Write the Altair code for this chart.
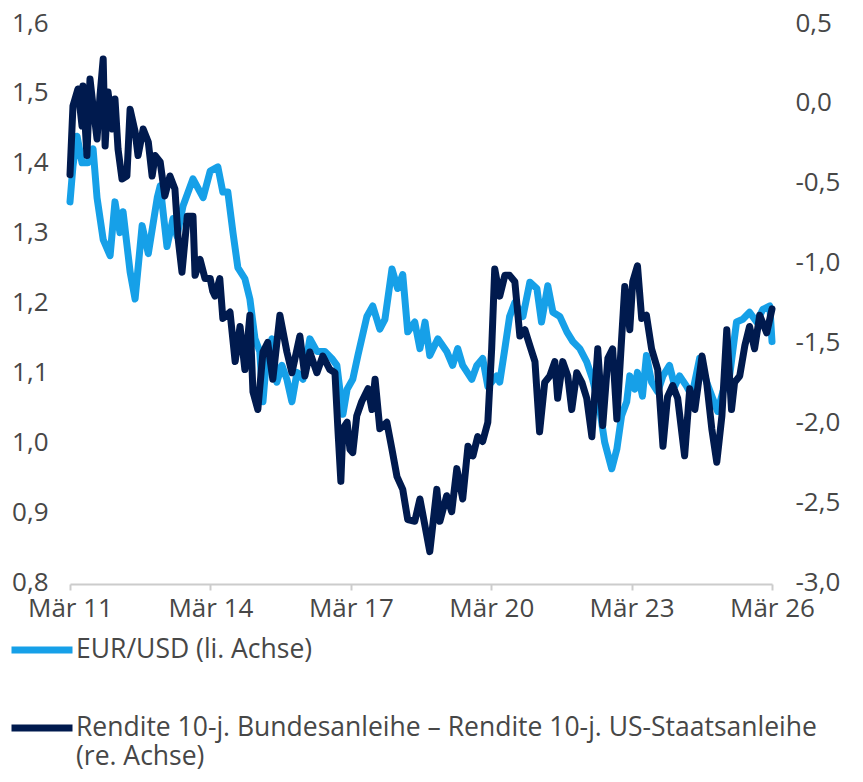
import altair as alt
import pandas as pd

# ---------------- data ----------------
eur_dates = [
    "2011-03-01", "2011-03-24", "2011-04-25", "2011-06-03", "2011-07-19", "2011-08-28",
    "2011-09-28", "2011-11-15", "2012-01-08", "2012-02-15", "2012-03-25", "2012-04-18",
    "2012-06-12", "2012-07-21", "2012-09-14", "2012-11-01", "2013-01-10", "2013-02-02",
    "2013-03-27", "2013-05-13", "2013-06-13", "2013-07-30", "2013-10-16", "2014-01-03",
    "2014-02-27", "2014-04-28", "2014-06-06", "2014-07-15", "2014-08-24", "2014-10-01",
    "2014-11-25", "2015-01-03", "2015-02-12", "2015-03-21", "2015-04-15", "2015-05-15",
    "2015-06-24", "2015-08-01", "2015-09-10", "2015-10-19", "2015-11-27", "2016-01-06",
    "2016-02-21", "2016-04-15", "2016-06-09", "2016-08-10", "2016-10-03", "2016-11-12",
    "2016-12-29", "2017-01-31", "2017-03-16", "2017-04-25", "2017-07-04", "2017-08-19",
    "2017-10-13", "2017-11-22", "2018-01-16", "2018-03-01", "2018-04-10", "2018-05-19",
    "2018-07-13", "2018-08-22", "2018-10-01", "2018-11-07", "2019-01-09", "2019-03-19",
    "2019-05-04", "2019-06-13", "2019-07-22", "2019-10-01", "2019-11-09", "2019-12-25",
    "2020-02-03", "2020-04-13", "2020-05-06", "2020-06-15", "2020-07-22", "2020-09-01",
    "2020-11-03", "2020-12-27", "2021-02-20", "2021-03-28", "2021-05-16", "2021-06-25",
    "2021-08-18", "2021-10-12", "2021-11-28", "2022-01-21", "2022-03-16", "2022-05-01",
    "2022-06-25", "2022-08-03", "2022-09-27", "2022-11-06", "2022-12-13", "2023-01-22",
    "2023-02-15", "2023-03-25", "2023-04-16", "2023-05-25", "2023-06-25", "2023-08-04",
    "2023-09-21", "2023-11-01", "2023-12-22", "2024-02-01", "2024-03-10", "2024-05-04",
    "2024-06-13", "2024-08-13", "2024-10-07", "2024-11-25", "2025-01-01", "2025-02-10",
    "2025-04-04", "2025-05-28", "2025-07-16", "2025-09-07", "2025-11-01", "2025-12-19",
    "2026-02-12", "2026-03-01",
]
eur_values = [
    1.344, 1.395, 1.438, 1.400, 1.400, 1.420,
    1.350, 1.290, 1.267, 1.344, 1.300, 1.330,
    1.244, 1.205, 1.310, 1.270, 1.350, 1.367,
    1.280, 1.320, 1.295, 1.338, 1.377, 1.350,
    1.388, 1.394, 1.358, 1.358, 1.300, 1.250,
    1.234, 1.205, 1.148, 1.130, 1.058, 1.124,
    1.148, 1.086, 1.110, 1.090, 1.058, 1.100,
    1.090, 1.148, 1.130, 1.130, 1.120, 1.110,
    1.040, 1.076, 1.090, 1.124, 1.180, 1.195,
    1.162, 1.176, 1.248, 1.220, 1.240, 1.158,
    1.172, 1.134, 1.172, 1.124, 1.148, 1.130,
    1.110, 1.134, 1.110, 1.090, 1.110, 1.120,
    1.080, 1.095, 1.086, 1.134, 1.180, 1.200,
    1.180, 1.229, 1.220, 1.172, 1.224, 1.186,
    1.180, 1.158, 1.144, 1.134, 1.115, 1.090,
    1.048, 1.000, 0.962, 0.990, 1.038, 1.058,
    1.095, 1.076, 1.100, 1.066, 1.124, 1.086,
    1.072, 1.095, 1.110, 1.080, 1.095, 1.080,
    1.066, 1.120, 1.086, 1.062, 1.044, 1.072,
    1.095, 1.172, 1.176, 1.186, 1.172, 1.190,
    1.195, 1.144,
]

spread_dates = [
    "2011-03-01", "2011-03-24", "2011-05-02", "2011-06-03", "2011-06-10", "2011-07-11",
    "2011-08-04", "2011-08-28", "2011-09-28", "2011-10-21", "2011-11-15", "2011-11-30",
    "2011-12-23", "2012-01-25", "2012-02-15", "2012-03-10", "2012-04-10", "2012-05-18",
    "2012-06-12", "2012-07-21", "2012-08-13", "2012-09-22", "2012-11-01", "2012-12-01",
    "2012-12-25", "2013-02-02", "2013-03-10", "2013-04-19", "2013-05-28", "2013-06-22",
    "2013-07-22", "2013-09-01", "2013-10-16", "2013-11-01", "2013-12-10", "2014-01-18",
    "2014-02-27", "2014-03-19", "2014-04-06", "2014-05-13", "2014-06-06", "2014-08-01",
    "2014-09-10", "2014-10-18", "2014-11-25", "2015-01-03", "2015-01-27", "2015-03-06",
    "2015-04-15", "2015-05-22", "2015-07-01", "2015-08-25", "2015-10-19", "2015-11-27",
    "2016-01-28", "2016-03-07", "2016-04-15", "2016-06-09", "2016-07-25", "2016-09-18",
    "2016-10-28", "2016-11-21", "2016-12-13", "2016-12-29", "2017-01-31", "2017-02-22",
    "2017-03-16", "2017-04-16", "2017-05-25", "2017-07-13", "2017-08-13", "2017-09-06",
    "2017-10-13", "2017-12-07", "2018-01-16", "2018-02-24", "2018-04-10", "2018-05-19",
    "2018-07-13", "2018-08-22", "2018-10-01", "2018-11-07", "2019-01-01", "2019-01-25",
    "2019-03-19", "2019-04-27", "2019-06-06", "2019-07-22", "2019-09-01", "2019-10-10",
    "2019-11-16", "2019-12-25", "2020-02-03", "2020-03-04", "2020-03-28", "2020-05-06",
    "2020-06-15", "2020-07-22", "2020-09-01", "2020-10-10", "2020-11-18", "2020-12-27",
    "2021-02-05", "2021-03-13", "2021-04-22", "2021-06-01", "2021-07-10", "2021-08-01",
    "2021-09-10", "2021-10-19", "2021-11-19", "2021-12-28", "2022-02-06", "2022-03-16",
    "2022-04-25", "2022-06-10", "2022-07-19", "2022-08-28", "2022-10-04", "2022-11-06",
    "2022-12-13", "2023-01-07", "2023-01-22", "2023-02-15", "2023-03-10", "2023-04-16",
    "2023-05-19", "2023-06-25", "2023-08-04", "2023-09-21", "2023-11-01", "2023-12-07",
    "2024-01-16", "2024-02-24", "2024-04-18", "2024-05-28", "2024-07-07", "2024-09-01",
    "2024-10-07", "2024-11-16", "2024-12-25", "2025-02-03", "2025-03-13", "2025-04-19",
    "2025-05-13", "2025-06-22", "2025-08-01", "2025-09-07", "2025-10-16", "2025-11-25",
    "2026-01-19", "2026-03-01",
]
spread_values = [
    -0.45, -0.02, 0.087, -0.145, 0.106, -0.33,
    0.15, -0.02, -0.226, 0.043, 0.275, -0.27,
    0.068, -0.164, 0.024, -0.29, -0.477, -0.458,
    -0.04, -0.18, -0.33, -0.164, -0.245, -0.458,
    -0.33, -0.37, -0.583, -0.458, -0.54, -0.85,
    -1.06, -0.71, -0.71, -1.08, -0.98, -1.10,
    -1.10, -1.18, -1.21, -1.10, -1.35, -1.31,
    -1.62, -1.40, -1.67, -1.33, -1.81, -1.92,
    -1.56, -1.50, -1.73, -1.33, -1.56, -1.69,
    -1.46, -1.71, -1.56, -1.69, -1.585, -1.67,
    -1.69, -2.06, -2.37, -2.04, -2.00, -2.17,
    -2.19, -1.96, -1.87, -1.79, -1.92, -1.73,
    -2.04, -2.00, -2.17, -2.34, -2.42, -2.61,
    -2.62, -2.48, -2.65, -2.81, -2.42, -2.62,
    -2.46, -2.56, -2.29, -2.48, -2.15, -2.21,
    -2.09, -2.12, -2.00, -1.54, -1.04, -1.21,
    -1.08, -1.08, -1.12, -1.46, -1.42, -1.52,
    -1.62, -2.06, -1.75, -1.71, -1.62, -1.85,
    -1.62, -1.71, -1.92, -1.69, -1.75, -1.85,
    -2.09, -1.54, -2.02, -1.60, -1.54, -1.98,
    -1.48, -1.15, -1.23, -1.42, -1.12, -1.02,
    -1.35, -1.33, -1.54, -1.67, -2.15, -1.84,
    -1.77, -1.85, -2.21, -1.79, -1.92, -1.585,
    -1.75, -2.04, -2.25, -1.96, -1.42, -1.92,
    -1.75, -1.71, -1.52, -1.40, -1.54, -1.33,
    -1.44, -1.29,
]

left_ticks = [0.8, 0.9, 1.0, 1.1, 1.2, 1.3, 1.4, 1.5, 1.6]
right_ticks = [-3.0, -2.5, -2.0, -1.5, -1.0, -0.5, 0.0, 0.5]
tick_years = [2011, 2014, 2017, 2020, 2023, 2026]

S1 = "EUR/USD (li. Achse)"
S2 = "Rendite 10-j. Bundesanleihe – Rendite 10-j. US-Staatsanleihe (re. Achse)"
S2_LINE1 = "Rendite 10-j. Bundesanleihe – Rendite 10-j. US-Staatsanleihe"
S2_LINE2 = "(re. Achse)"

# ---------------- styling ----------------
LIGHT = "#16A0E8"
DARK = "#001A4E"
GREY = "#474747"
FONT = "Open Sans"
FS = 26
LFS = 26.5

df1 = pd.DataFrame({"date": eur_dates, "value": eur_values, "series": S1})
df2 = pd.DataFrame({"date": spread_dates, "value": spread_values, "series": S2})

x_enc = alt.X(
    "date:T",
    scale=alt.Scale(
        type="utc",
        domain=[alt.DateTime(year=2011, month=3, date=1, utc=True),
                alt.DateTime(year=2026, month=3, date=1, utc=True)],
    ),
    axis=alt.Axis(
        title=None,
        values=[alt.DateTime(year=y, month=3, date=1, utc=True) for y in tick_years],
        labelExpr="'Mär ' + utcFormat(datum.value, '%y')",
        grid=False,
        domainColor="#cccccc",
        domainWidth=2,
        tickColor="#cccccc",
        tickWidth=2,
        tickSize=6,
        labelPadding=5,
        labelFontSize=FS,
        labelFont=FONT,
        labelColor=GREY,
        labelFlush=False,
        offset=2,
    ),
)

legend = alt.Legend(
    title=None,
    orient="none",
    legendX=-62,
    legendY=593,
    direction="vertical",
    symbolType="stroke",
    symbolSize=3721,
    symbolStrokeWidth=7,
    labelFontSize=LFS,
    labelFont=FONT,
    labelColor=GREY,
    labelLimit=1000,
    labelOffset=0,
    rowPadding=30,
    padding=0,
    labelExpr=f"datum.label == '{S2}' ? ['{S2_LINE1}', '{S2_LINE2}'] : datum.label",
)

color_enc = alt.Color(
    "series:N",
    scale=alt.Scale(domain=[S1, S2], range=[LIGHT, DARK]),
    legend=legend,
)

left = alt.Chart(df1).mark_line(strokeWidth=7, strokeCap="round", strokeJoin="round").encode(
    x=x_enc,
    y=alt.Y(
        "value:Q",
        scale=alt.Scale(domain=[0.8, 1.6], nice=False, zero=False),
        axis=alt.Axis(
            title=None,
            values=left_ticks,
            labelExpr="replace(format(datum.value, '.1f'), '.', ',')",
            grid=False,
            domain=False,
            ticks=False,
            labelPadding=22,
            labelFontSize=FS,
            labelFont=FONT,
            labelColor=GREY,
        ),
    ),
    color=color_enc,
)

right = alt.Chart(df2).mark_line(strokeWidth=7, strokeCap="round", strokeJoin="round").encode(
    x=x_enc,
    y=alt.Y(
        "value:Q",
        scale=alt.Scale(domain=[-3.0, 0.5], nice=False, zero=False),
        axis=alt.Axis(
            title=None,
            orient="right",
            values=right_ticks,
            labelExpr="(datum.value < 0 ? '-' : '') + replace(format(abs(datum.value), '.1f'), '.', ',')",
            grid=False,
            domain=False,
            ticks=False,
            labelPadding=23,
            labelFontSize=FS,
            labelFont=FONT,
            labelColor=GREY,
        ),
    ),
    color=color_enc,
)

chart = (
    alt.layer(left, right)
    .resolve_scale(y="independent")
    .properties(
        width=702,
        height=559,
        padding={"left": 62, "top": 15, "right": 80, "bottom": 191},
        autosize=alt.AutoSizeParams(type="none"),
    )
    .configure_view(stroke=None)
)

chart.save("out.html", embed_options={"renderer": "svg", "actions": False})
